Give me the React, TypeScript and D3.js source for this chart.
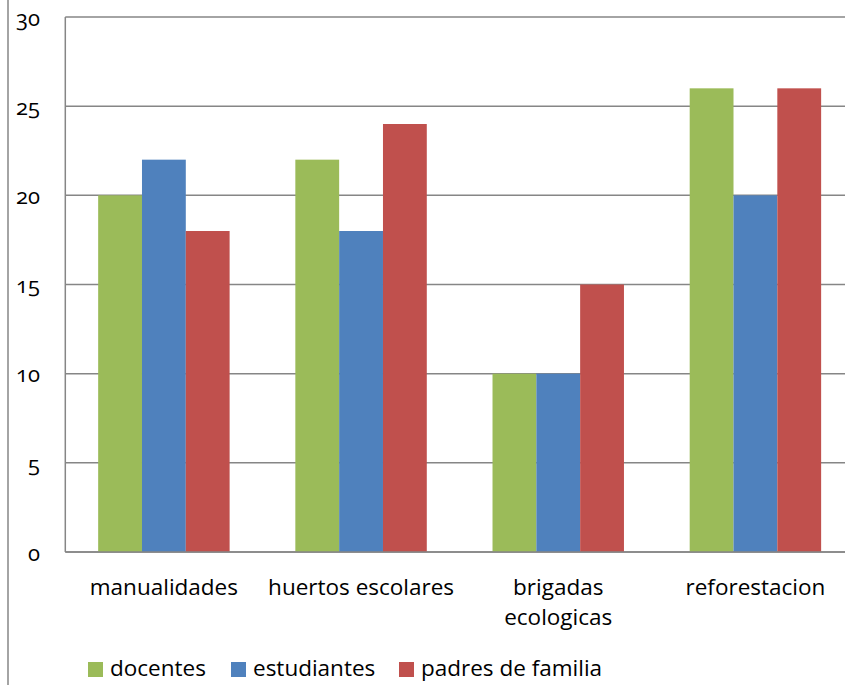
import React from "react";
import * as d3 from "d3";

const categories: string[][] = [["manualidades"], ["huertos escolares"], ["brigadas", "ecologicas"], ["reforestacion"]];
const seriesNames = ["docentes", "estudiantes", "padres de familia"];
const seriesColors = ["#9BBB59", "#4F81BD", "#C0504D"];
const docentes = [20, 22, 10, 26];
const estudiantes = [22, 18, 10, 20];
const padres = [18, 24, 15, 26];
const yTicks = [0, 5, 10, 15, 20, 25, 30];

export default function App() {
  const W = 845, H = 685;
  const left = 65.3, right = 854, top = 17, bottom = 552;
  const series = [docentes, estudiantes, padres];
  const x0 = d3.scaleBand<number>().domain(d3.range(categories.length)).range([left, right]).paddingInner(0).paddingOuter(0);
  const bw = x0.bandwidth();
  const barW = bw / 4.5;
  const y = d3.scaleLinear().domain([0, 30]).range([bottom, top]);
  const font = "'Open Sans', 'Noto Sans', sans-serif";
  const legendX = [88, 231, 399];
  return (
    <div style={{ position: "fixed", left: 0, top: 0 }}>
      <svg width={W} height={H} style={{ display: "block", background: "#fff" }}>
        <line x1={8} x2={8} y1={0} y2={H} stroke="#868686" strokeWidth={1.5} />
        {yTicks.map((t) => (
          <g key={t}>
            <line x1={left} x2={W} y1={y(t)} y2={y(t)} stroke="#868686" strokeWidth={1.5} />
            <text x={40} y={y(t)} dy="0.4em" textAnchor="end" fontFamily={font} fontSize={22} style={{ fontVariantNumeric: "oldstyle-nums" }} fill="#000">{t}</text>
          </g>
        ))}
        <line x1={left} x2={left} y1={top} y2={bottom} stroke="#868686" strokeWidth={1.5} />
        {categories.map((c, i) => {
          const x = x0(i)!;
          const start = x + (bw - 3 * barW) / 2;
          return (
            <g key={i}>
              {series.map((s, j) => (
                <rect key={j} x={start + j * barW} y={y(s[i])} width={barW} height={y(0) - y(s[i])} fill={seriesColors[j]} />
              ))}
              {c.map((line, k) => (
                <text key={k} x={x + bw / 2} y={595 + k * 30} textAnchor="middle" fontFamily={font} fontSize={22.5} fill="#000">{line}</text>
              ))}
            </g>
          );
        })}
        <line x1={left} x2={W} y1={bottom} y2={bottom} stroke="#868686" strokeWidth={1.5} />
        {seriesNames.map((n, j) => (
          <g key={n}>
            <rect x={legendX[j]} y={662} width={15} height={15} fill={seriesColors[j]} />
            <text x={legendX[j] + 22} y={676} fontFamily={font} fontSize={22.5} fill="#000">{n}</text>
          </g>
        ))}
      </svg>
    </div>
  );
}
